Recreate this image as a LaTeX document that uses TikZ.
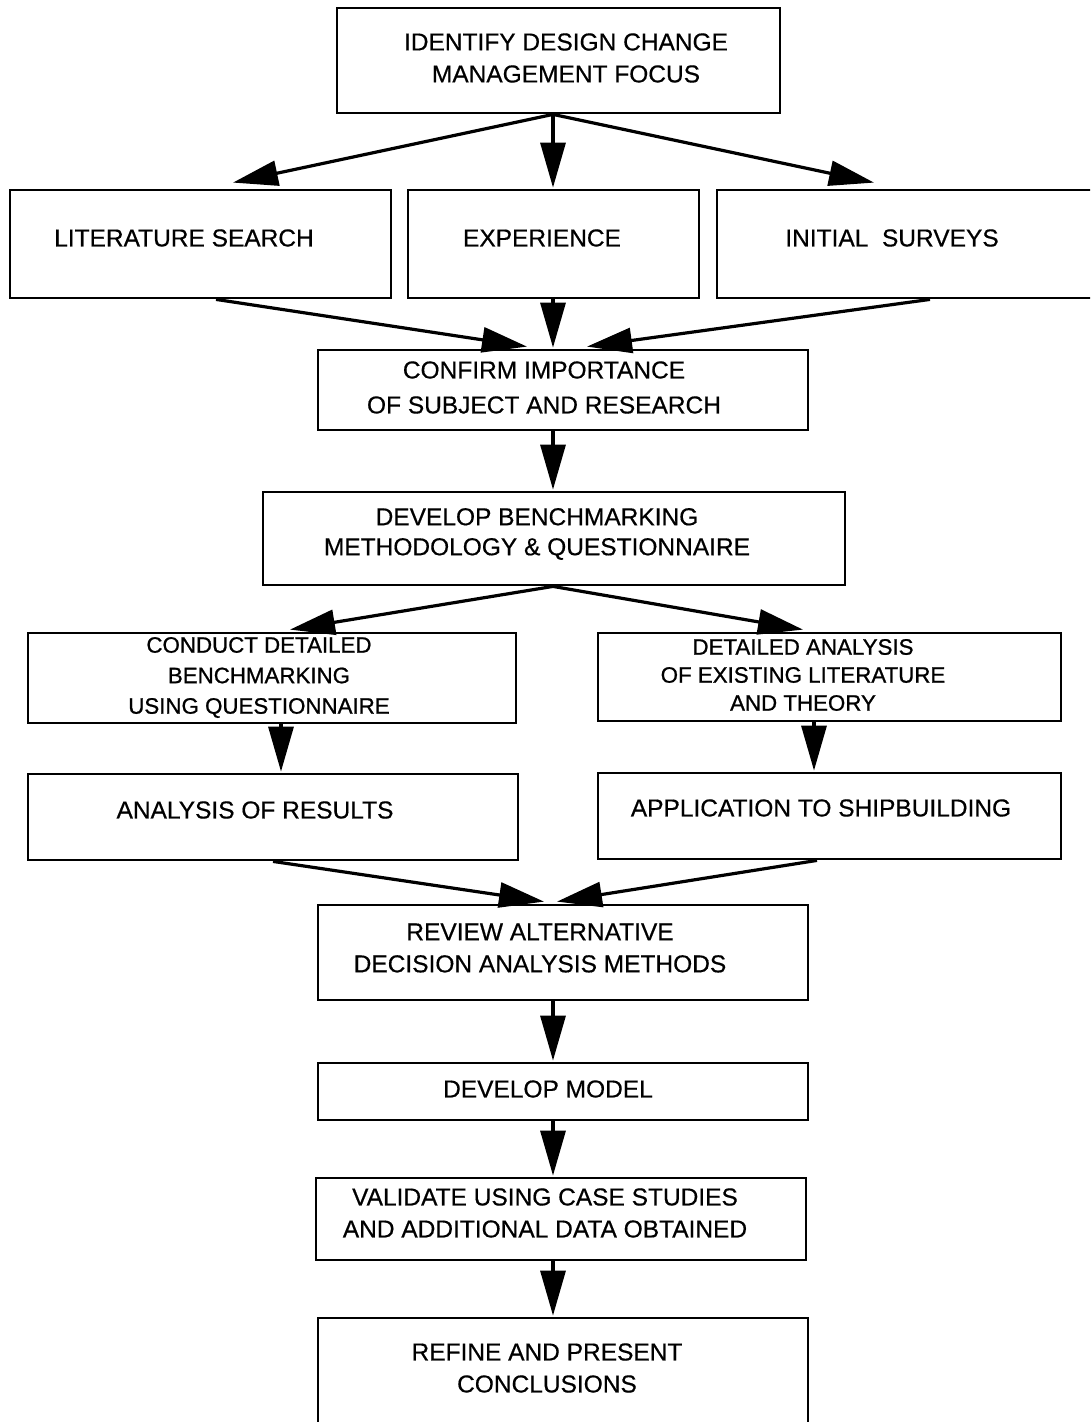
\documentclass[tikz,border=0pt]{standalone}
\usepackage{fontspec}
\setmainfont{Liberation Sans}
\usetikzlibrary{arrows.meta}
\begin{document}
\begin{tikzpicture}[x=1pt, y=-1pt,
  box/.style={draw, rectangle, line width=2.8pt, inner sep=0pt},
  txt/.style={inner sep=0pt, align=center, font=\fontsize{24.5}{32}\selectfont\addfontfeature{FakeBold=0.5}},
  small/.style={inner sep=0pt, align=center},
  flow/.style={line width=3.2pt, -{Triangle[length=45pt,width=25pt]}}]
\clip (0,0) rectangle (1090,1422);
\fill[white] (0,0) rectangle (1090,1422);

% boxes
\node[box, minimum width=443, minimum height=105] (top)   at (558.5,60.5) {};
\node[box, minimum width=381, minimum height=108] (lit)   at (200.5,244)  {};
\node[box, minimum width=291, minimum height=108] (exp)   at (553.5,244)  {};
\node[box, minimum width=383, minimum height=108] (ini)   at (908.5,244)  {};
\node[box, minimum width=490, minimum height=80]  (conf)  at (563,390)    {};
\node[box, minimum width=582, minimum height=93]  (bench) at (554,538.5)  {};
\node[box, minimum width=488, minimum height=90]  (cond)  at (272,678)    {};
\node[box, minimum width=463, minimum height=88]  (det)   at (829.5,677)  {};
\node[box, minimum width=490, minimum height=86]  (res)   at (273,817)    {};
\node[box, minimum width=463, minimum height=86]  (app)   at (829.5,816)  {};
\node[box, minimum width=490, minimum height=95]  (rev)   at (563,952.5)  {};
\node[box, minimum width=490, minimum height=57]  (model) at (563,1091.5) {};
\node[box, minimum width=490, minimum height=82]  (val)   at (561,1219)   {};
\node[box, minimum width=490, minimum height=122] (ref)   at (563,1379)   {};

% box texts
\node[txt] (topT)   at (566,58)    {IDENTIFY DESIGN CHANGE\\MANAGEMENT FOCUS};
\node[txt] (litT)   at (184,238)   {LITERATURE SEARCH};
\node[txt] (expT)   at (542,238)   {EXPERIENCE};
\node[txt] (iniT)   at (892,238)   {INITIAL\ \ SURVEYS};
\node[txt, font=\fontsize{24.5}{35}\selectfont\addfontfeature{FakeBold=0.5}] (confT) at (544,387.5) {CONFIRM IMPORTANCE\\OF SUBJECT AND RESEARCH};
\node[txt, font=\fontsize{24.5}{30}\selectfont\addfontfeature{FakeBold=0.5}] (benchT) at (537,534) {DEVELOP BENCHMARKING\\METHODOLOGY \& QUESTIONNAIRE};
\node[small, font=\fontsize{22.3}{30.5}\selectfont\addfontfeature{FakeBold=0.9}] (condT) at (259,677.5) {CONDUCT DETAILED\\BENCHMARKING\\USING QUESTIONNAIRE};
\node[small, font=\fontsize{22.3}{28}\selectfont\addfontfeature{FakeBold=0.9}] (detT) at (803,675) {DETAILED ANALYSIS\\OF EXISTING LITERATURE\\AND THEORY};
\node[txt] (resT)   at (255,810)   {ANALYSIS OF RESULTS};
\node[txt] (appT)   at (821,808)   {APPLICATION TO SHIPBUILDING};
\node[txt] (revT)   at (540,948)   {REVIEW ALTERNATIVE\\DECISION ANALYSIS METHODS};
\node[txt] (modelT) at (548,1089)  {DEVELOP MODEL};
\node[txt] (valT)   at (545,1213)  {VALIDATE USING CASE STUDIES\\AND ADDITIONAL DATA OBTAINED};
\node[txt] (refT)   at (547,1368)  {REFINE AND PRESENT\\CONCLUSIONS};

% connectors
\draw[flow] ([xshift=-5.5pt]top.south) -- ([xshift=32.5pt,yshift=6pt]lit.north);
\draw[flow] ([xshift=-5.5pt]top.south) -- ([xshift=-0.5pt,yshift=1pt]exp.north);
\draw[flow] ([xshift=-5.5pt]top.south) -- ([xshift=-34.5pt,yshift=6pt]ini.north);

\draw[flow] ([xshift=15.5pt]lit.south) -- ([xshift=-36pt,yshift=2pt]conf.north);
\draw[flow] ([xshift=-0.5pt]exp.south) -- ([xshift=-10pt,yshift=1pt]conf.north);
\draw[flow] ([xshift=21.5pt]ini.south) -- ([xshift=24pt,yshift=2pt]conf.north);

\draw[flow] ([xshift=-10pt]conf.south) -- ([xshift=-1pt,yshift=1pt]bench.north);

\draw[flow] ([xshift=-1pt]bench.south) -- ([xshift=18pt,yshift=2pt]cond.north);
\draw[flow] ([xshift=-1pt]bench.south) -- ([xshift=-26.5pt,yshift=2pt]det.north);

\draw[flow] ([xshift=9pt]cond.south) -- ([xshift=8pt,yshift=1pt]res.north);
\draw[flow] ([xshift=-15.5pt]det.south) -- ([xshift=-15.5pt,yshift=1pt]app.north);

\draw[flow] (res.south) -- ([xshift=-19pt,yshift=2pt]rev.north);
\draw[flow] ([xshift=-12.5pt]app.south) -- ([xshift=-6pt,yshift=2pt]rev.north);

\draw[flow] ([xshift=-10pt]rev.south) -- ([xshift=-10pt,yshift=1pt]model.north);
\draw[flow] ([xshift=-10pt]model.south) -- ([xshift=-8pt,yshift=1pt]val.north);
\draw[flow] ([xshift=-8pt]val.south) -- ([xshift=-10pt,yshift=1pt]ref.north);
\end{tikzpicture}
\end{document}
